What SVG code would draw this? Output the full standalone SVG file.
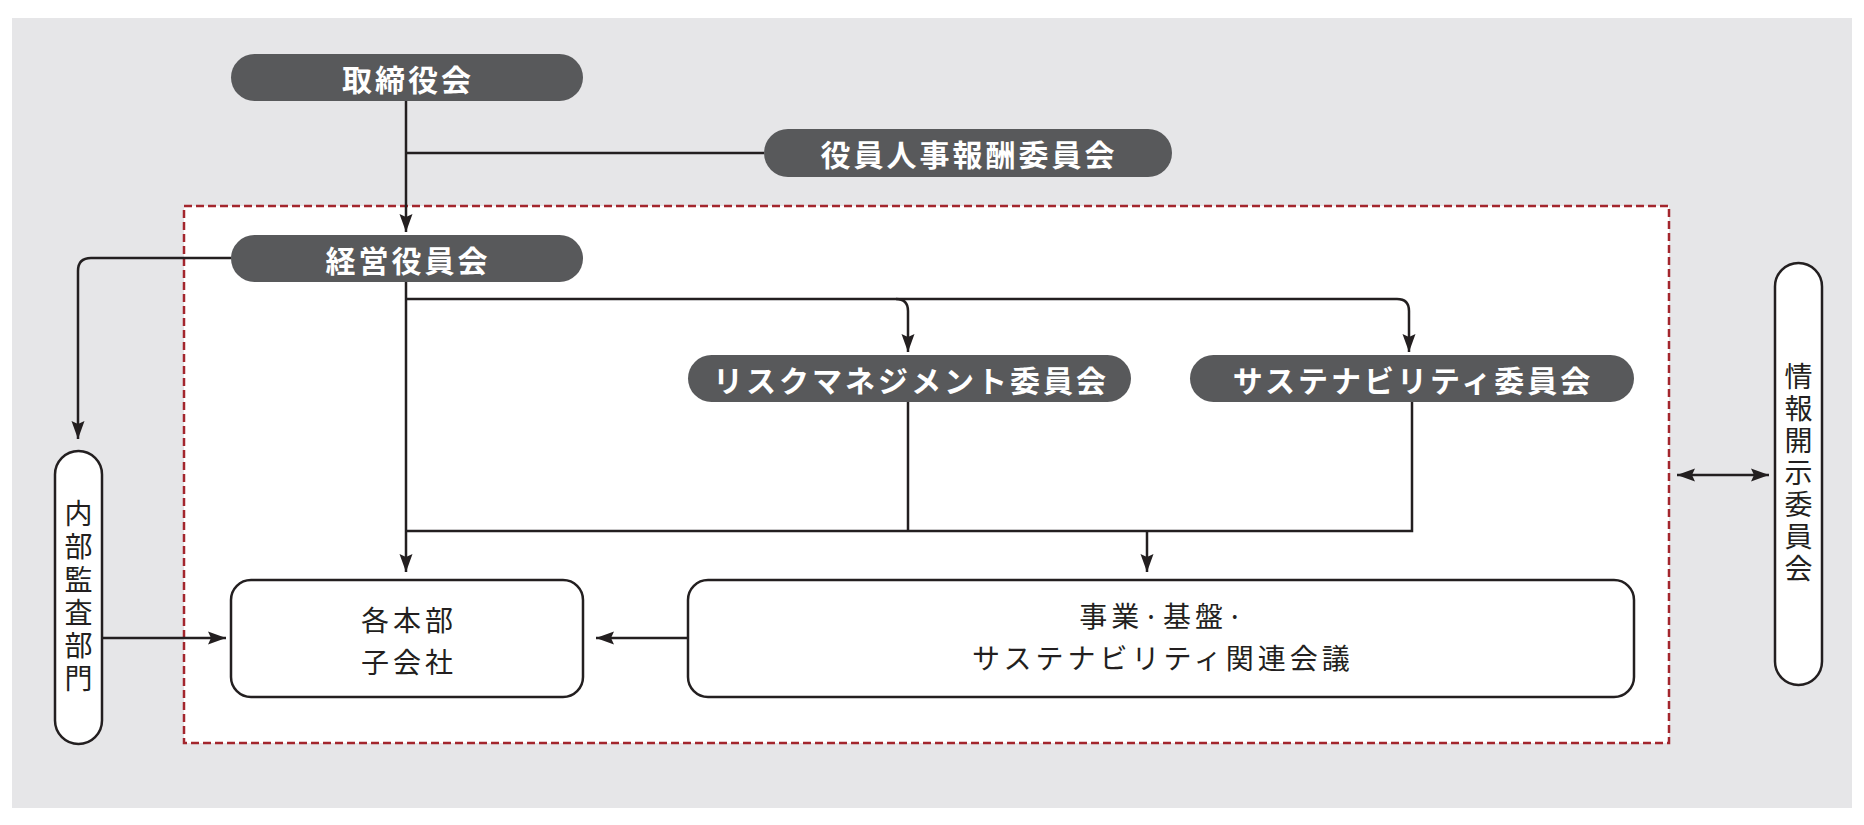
<svg xmlns="http://www.w3.org/2000/svg" width="1864" height="825" viewBox="0 0 1864 825">
<style>
.pill{fill:#58595b}
.pt{fill:#fff;font-family:"Noto Sans CJK JP","Noto Sans CJK SC",sans-serif;font-size:30px;font-weight:700;letter-spacing:3px;text-anchor:middle;dominant-baseline:central}
.box{fill:#fff;stroke:#231f20;stroke-width:2.5}
.bt{fill:#231f20;font-family:"Noto Sans CJK JP","Noto Sans CJK SC",sans-serif;font-size:28px;font-weight:400;letter-spacing:4px;text-anchor:middle;dominant-baseline:central}
.vt{fill:#231f20;font-family:"Noto Sans CJK JP","Noto Sans CJK SC",sans-serif;font-size:28px;font-weight:400;writing-mode:vertical-rl;text-anchor:middle}
.ln{fill:none;stroke:#231f20;stroke-width:2.5}
</style>
<defs>
<marker id="ah" markerUnits="userSpaceOnUse" markerWidth="18" markerHeight="14" viewBox="0 0 18 14" refX="18" refY="7" orient="auto-start-reverse">
<path d="M0,0.5 L18,7 L0,13.5 L3,7 Z" fill="#231f20"/>
</marker>
</defs>
<rect x="0" y="0" width="1864" height="825" fill="#ffffff"/>
<rect x="12" y="18" width="1840" height="790" fill="#e6e6e8"/>
<rect id="scope" x="184" y="206" width="1485" height="537" fill="#ffffff" stroke="#a3262d" stroke-width="2.5" stroke-dasharray="8,4"/>

<g id="connectors">
<path class="ln" d="M406,101 V232" marker-end="url(#ah)"/>
<path class="ln" d="M406,153 H764"/>
<path class="ln" d="M231,258 H91 Q78,258 78,271 V439" marker-end="url(#ah)"/>
<path class="ln" d="M406,282 V572" marker-end="url(#ah)"/>
<path class="ln" d="M406,299 H1397 Q1409,299 1409,311 V352" marker-end="url(#ah)"/>
<path class="ln" d="M896,299 Q908,299 908,311 V352" marker-end="url(#ah)"/>
<path class="ln" d="M908,402 V531"/>
<path class="ln" d="M1412,402 V531 H406"/>
<path class="ln" d="M1147,531 V572" marker-end="url(#ah)"/>
<path class="ln" d="M102,638 H226" marker-end="url(#ah)"/>
<path class="ln" d="M688,638 H596" marker-end="url(#ah)"/>
<path class="ln" d="M1677,475 H1769" marker-start="url(#ah)" marker-end="url(#ah)"/>
</g>

<g id="board">
<rect class="pill" x="231" y="54" width="352" height="47" rx="23.5"/>
<text class="pt" x="408" y="77.5">取締役会</text>
</g>
<g id="nomination">
<rect class="pill" x="764" y="129" width="408" height="48" rx="24"/>
<text class="pt" x="969" y="153">役員人事報酬委員会</text>
</g>
<g id="exec">
<rect class="pill" x="231" y="235" width="352" height="47" rx="23.5"/>
<text class="pt" x="408" y="258.5">経営役員会</text>
</g>
<g id="risk">
<rect class="pill" x="688" y="355" width="443" height="47" rx="23.5"/>
<text class="pt" x="911" y="378.5">リスクマネジメント委員会</text>
</g>
<g id="sustain">
<rect class="pill" x="1190" y="355" width="444" height="47" rx="23.5"/>
<text class="pt" x="1413" y="378.5">サステナビリティ委員会</text>
</g>
<g id="audit">
<rect class="box" x="55" y="451" width="47" height="293" rx="23.5"/>
<text class="vt" x="78.5" y="598" style="letter-spacing:5px">内部監査部門</text>
</g>
<g id="disclosure">
<rect class="box" x="1775" y="263" width="47" height="422" rx="23.5"/>
<text class="vt" x="1798.5" y="474" style="letter-spacing:4px">情報開示委員会</text>
</g>
<g id="divisions">
<rect class="box" x="231" y="580" width="352" height="117" rx="20"/>
<text class="bt" x="409" y="619">各本部</text>
<text class="bt" x="409" y="661">子会社</text>
</g>
<g id="meetings">
<rect class="box" x="688" y="580" width="946" height="117" rx="20"/>
<text class="bt" x="1163" y="615">事業·基盤·</text>
<text class="bt" x="1163" y="657">サステナビリティ関連会議</text>
</g>
</svg>
